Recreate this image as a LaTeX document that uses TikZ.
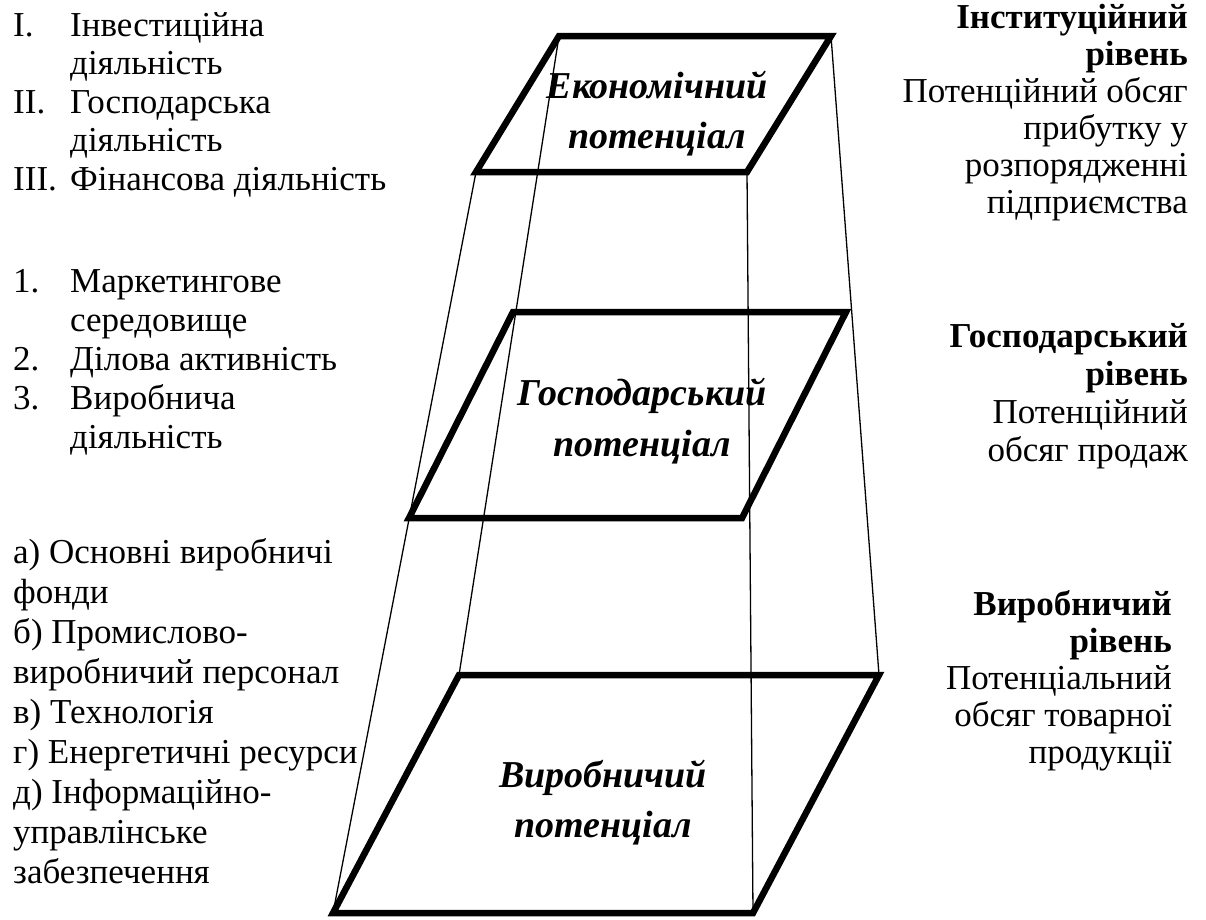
\documentclass[tikz,border=0pt]{standalone}
\usepackage{fontspec}
\setmainfont{Liberation Serif}
\begin{document}
\begin{tikzpicture}[x=1pt,y=-1pt,
  frame/.style={line width=6.5pt, line join=miter},
  edge/.style={line width=1.3pt},
  body/.style={inner sep=0pt, font=\fontsize{35}{40}\selectfont},
  head/.style={inner sep=0pt, font=\fontsize{35}{40}\selectfont\bfseries},
  title/.style={inner sep=0pt, anchor=base, font=\fontsize{38}{46}\selectfont\bfseries\itshape}]

\useasboundingbox (0,0) rectangle (1206,919);
\fill[white] (0,0) rectangle (1206,919);

% corners of the three levels
\coordinate (eTL) at (559,36);  \coordinate (eTR) at (831,36);
\coordinate (eBR) at (747,172); \coordinate (eBL) at (476,172);
\coordinate (gTL) at (513,312); \coordinate (gTR) at (846,312);
\coordinate (gBR) at (742,518); \coordinate (gBL) at (409,518);
\coordinate (vTL) at (459,675); \coordinate (vTR) at (879,675);
\coordinate (vBR) at (753,913); \coordinate (vBL) at (333,913);

% level planes
\draw[frame] (eTL) -- (eTR) -- (eBR) -- (eBL) -- cycle;
\draw[frame] (gTL) -- (gTR) -- (gBR) -- (gBL) -- cycle;
\draw[frame] (vTL) -- (vTR) -- (vBR) -- (vBL) -- cycle;

% pyramid edges
\draw[edge] (eBL) -- (vBL);
\draw[edge] (eTL) -- (vTL);
\draw[edge] (eTR) -- (vTR);
\draw[edge] (eBR) -- (vBR);

% plane titles
\node[title] (econ1) at (657,98)  {Економічний};
\node[title] (econ2) at (657,148) {потенціал};
\node[title] (gosp1) at (642,405) {Господарський};
\node[title] (gosp2) at (642,456) {потенціал};
\node[title] (vyr1)  at (603,787) {Виробничий};
\node[title] (vyr2)  at (603,837) {потенціал};

% activities
\node[body, anchor=base west] (n1) at (13,36)  {I.};
\node[body, anchor=base west] (n2) at (13,113) {II.};
\node[body, anchor=base west] (n3) at (13,190) {III.};
\foreach \t [count=\i] in {Інвестиційна, діяльність, Господарська, діяльність, Фінансова діяльність}
  \node[body, anchor=base west] (act\i) at (70,{36+38.5*(\i-1)}) {\t};

% factors of the economic level
\node[body, anchor=base west] (m1) at (13,292) {1.};
\node[body, anchor=base west] (m2) at (13,370) {2.};
\node[body, anchor=base west] (m3) at (13,409) {3.};
\foreach \t [count=\i] in {Маркетингове, середовище, Ділова активність, Виробнича, діяльність}
  \node[body, anchor=base west] (fac\i) at (70,{292+39*(\i-1)}) {\t};

% production resources
\foreach \t [count=\i] in {а) Основні виробничі, фонди, б) Промислово-, виробничий персонал, в) Технологія, г) Енергетичні ресурси, д) Інформаційно-, управлінське, забезпечення}
  \node[body, anchor=base west] (res\i) at (13,{563+40*(\i-1)}) {\t};

% level descriptions
\node[head, anchor=base east] (inst1) at (1188,28) {Інституційний};
\node[head, anchor=base east] (inst2) at (1188,65) {рівень};
\foreach \t [count=\i] in {Потенційний обсяг, прибутку у, розпорядженні, підприємства}
  \node[body, anchor=base east] (instd\i) at (1188,{102+37*(\i-1)}) {\t};

\node[head, anchor=base east] (gos1) at (1188,347) {Господарський};
\node[head, anchor=base east] (gos2) at (1188,385) {рівень};
\foreach \t [count=\i] in {Потенційний, обсяг продаж}
  \node[body, anchor=base east] (gosd\i) at (1188,{423+38*(\i-1)}) {\t};

\node[head, anchor=base east] (vir1) at (1172,615) {Виробничий};
\node[head, anchor=base east] (vir2) at (1172,652) {рівень};
\foreach \t [count=\i] in {Потенціальний, обсяг товарної, продукції}
  \node[body, anchor=base east] (vird\i) at (1172,{689+37*(\i-1)}) {\t};

\end{tikzpicture}
\end{document}
